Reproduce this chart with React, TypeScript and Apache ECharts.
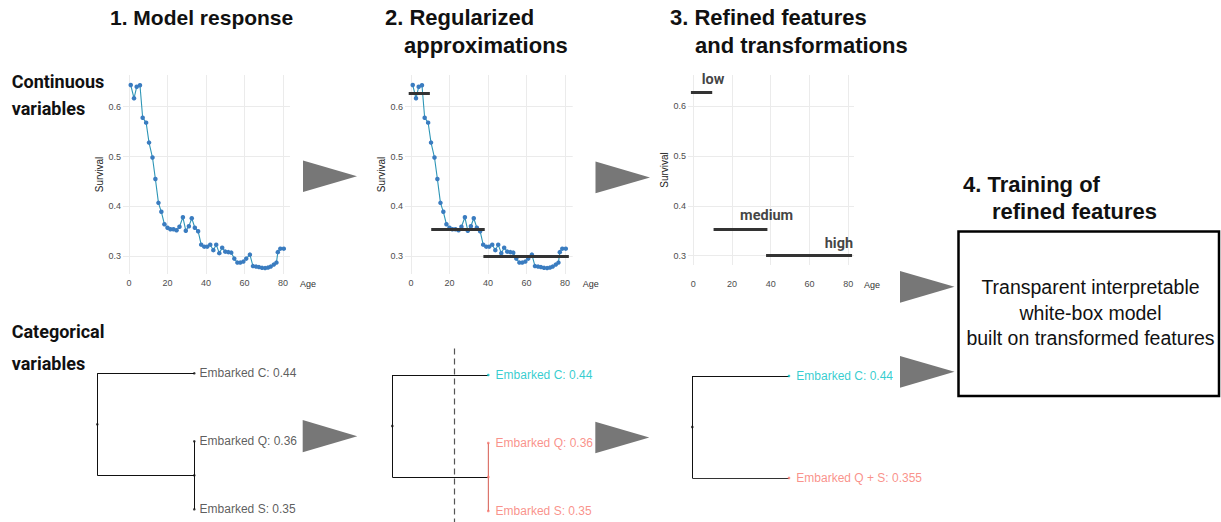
import React, { useEffect, useRef } from "react";
import * as echarts from "echarts";

// ---------- data ----------
const ages = [0.9, 2.6, 4.0, 5.7, 7.1, 8.9, 10.4, 12.2, 13.7, 15.3, 16.8, 18.4, 20.0, 21.5, 23.1, 24.7, 26.2, 28.0, 29.5, 31.1, 32.6, 34.2, 35.9, 37.5, 39.1, 40.6, 42.2, 43.8, 45.3, 46.9, 48.4, 50.0, 51.6, 53.1, 54.7, 56.3, 57.8, 59.4, 60.9, 62.8, 64.4, 66.0, 67.5, 69.1, 70.7, 72.2, 73.6, 75.2, 76.6, 77.3, 78.6, 80.4];
const survival = [0.6435, 0.617, 0.640, 0.643, 0.578, 0.568, 0.528, 0.498, 0.455, 0.407, 0.389, 0.364, 0.357, 0.354, 0.354, 0.352, 0.359, 0.378, 0.351, 0.360, 0.376, 0.357, 0.350, 0.323, 0.319, 0.319, 0.323, 0.312, 0.323, 0.306, 0.317, 0.309, 0.308, 0.307, 0.295, 0.287, 0.287, 0.289, 0.295, 0.303, 0.280, 0.279, 0.278, 0.2765, 0.276, 0.277, 0.279, 0.283, 0.287, 0.308, 0.315, 0.315];

const bandNames = ["low", "medium", "high"];
const bandStart = [-1.2, 10.5, 37.6];
const bandEnd = [9.8, 38.3, 82.0];
const bandSurvival = [0.628, 0.353, 0.3];
const bandLabelX = [10.2, 37.9, 75.2];
const bandLabelY = [0.654, 0.38, 0.3234];

const xTicks = [0, 20, 40, 60, 80];
const yTicks = [0.3, 0.4, 0.5, 0.6];

const embarkedPorts = ["C", "Q", "S"];
const embarkedSurvival = [0.44, 0.36, 0.35];
const leafOrder = [3, 2, 1];
const mergeHeights = [1, 0]; // root, Q+S
const clusterOf = [0, 1, 1];
const cutHeight = 0.35;
const mergedPorts = "Q + S";
const mergedSurvival = 0.355;

// ---------- styles ----------
const SANS = "'Liberation Sans', Arial, Helvetica, sans-serif";
const BOLDSANS = "Roboto, 'Liberation Sans', Arial, sans-serif";
const POINT = "#3A7CC0";
const LINE = "#2E96B6";
const CYAN = "#00BFC4";
const SALMON = "#F8766D";
const SALMON_DARK = "#DC756C";
const clusterColors = [CYAN, SALMON];

const contGrids = [
  { left: 123, top: 75, width: 167, height: 199 },
  { left: 405, top: 75, width: 167.7, height: 199 },
  { left: 688, top: 75, width: 166, height: 190 },
];
const contX = [[-3.12, 83.63], [-3.12, 84.0], [-2.7, 83.0]];
const contY = [[0.2641, 0.6637], [0.2641, 0.6637], [0.2813, 0.6621]];
const yNameGap = [17.5, 18.5, 19];
const xLabelMargin = [4.5, 4.5, 14.5];

const dendroGrids = [
  { left: 97.3, top: 342.7, width: 97, height: 180.2 },
  { left: 392.3, top: 344.4, width: 96, height: 180.2 },
  { left: 692.3, top: 345.4, width: 96.7, height: 180.2 },
];

function buildOption() {
  const grid: any[] = [];
  const xAxis: any[] = [];
  const yAxis: any[] = [];
  const series: any[] = [];

  contGrids.forEach((g, i) => {
    grid.push({ ...g, containLabel: false, outerBoundsMode: "none" });
    xAxis.push({
      type: "value",
      gridIndex: i,
      min: contX[i][0],
      max: contX[i][1],
      name: "Age",
      nameLocation: "end",
      nameGap: 10,
      nameTextStyle: { fontFamily: SANS, fontSize: 9, color: "#333", verticalAlign: "top", padding: [xLabelMargin[i] + 0.5, 0, 0, 0] },
      axisLine: { show: false },
      axisTick: { show: false, customValues: xTicks },
      axisLabel: { customValues: xTicks, fontFamily: SANS, fontSize: 9, color: "#4d4d4d", margin: xLabelMargin[i] },
      splitLine: { show: true, lineStyle: { color: "#EBEBEB", width: 1 } },
    });
    yAxis.push({
      type: "value",
      gridIndex: i,
      min: contY[i][0],
      max: contY[i][1],
      name: "Survival",
      nameLocation: "middle",
      nameGap: yNameGap[i],
      nameRotate: 90,
      nameTextStyle: { fontFamily: SANS, fontSize: 10, color: "#222" },
      axisLine: { show: false },
      axisTick: { show: false, customValues: yTicks },
      axisLabel: { customValues: yTicks, fontFamily: SANS, fontSize: 9, color: "#4d4d4d", margin: 2, formatter: (v: number) => v.toFixed(1) },
      splitLine: { show: true, lineStyle: { color: "#EBEBEB", width: 1 } },
    });
  });

  const responseData = ages.map((a, k) => [a, survival[k]]);
  [0, 1].forEach((i) => {
    series.push({
      type: "line",
      xAxisIndex: i,
      yAxisIndex: i,
      data: responseData,
      symbol: "circle",
      symbolSize: 4.5,
      itemStyle: { color: POINT },
      lineStyle: { color: LINE, width: 1.1 },
      z: 2,
    });
  });

  const bandLines = bandNames.map((_, k) => ({
    coords: [[bandStart[k], bandSurvival[k]], [bandEnd[k], bandSurvival[k]]],
  }));
  [1, 2].forEach((i) => {
    series.push({
      type: "lines",
      coordinateSystem: "cartesian2d",
      xAxisIndex: i,
      yAxisIndex: i,
      data: bandLines,
      lineStyle: { color: "#333", width: 3.2, opacity: 1 },
      z: 5,
    });
  });
  series.push({
    type: "scatter",
    xAxisIndex: 2,
    yAxisIndex: 2,
    symbolSize: 0,
    data: bandNames.map((n, k) => ({ name: n, value: [bandLabelX[k], bandLabelY[k]] })),
    label: {
      show: true,
      position: "inside",
      formatter: "{b}",
      fontFamily: BOLDSANS,
      fontWeight: "bold",
      fontSize: 14.5,
      color: "#111",
    },
    z: 6,
  });

  // dendrograms
  dendroGrids.forEach((g, j) => {
    const gi = 3 + j;
    grid.push({ ...g, containLabel: false, outerBoundsMode: "none" });
    xAxis.push({ type: "value", gridIndex: gi, inverse: true, min: 0, max: 1, show: false });
    yAxis.push({ type: "value", gridIndex: gi, min: 0.8, max: 3.45, show: false });
  });

  const rootH = mergeHeights[0];
  const qsH = mergeHeights[1];
  const qsY = (leafOrder[1] + leafOrder[2]) / 2;
  const rootY = (leafOrder[0] + qsY) / 2;
  const leafLabel = (k: number) => `Embarked ${embarkedPorts[k]}: ${embarkedSurvival[k]}`;

  [0, 1].forEach((j) => {
    const gi = 3 + j;
    const qsColor = j === 0 ? "#111" : SALMON_DARK;
    series.push({
      type: "lines",
      coordinateSystem: "cartesian2d",
      xAxisIndex: gi,
      yAxisIndex: gi,
      lineStyle: { color: "#111", width: 1, opacity: 1 },
      data: [
        { coords: [[rootH, leafOrder[0]], [rootH, qsY]] },
        { coords: [[rootH, leafOrder[0]], [0, leafOrder[0]]] },
        { coords: [[rootH, qsY], [qsH, qsY]] },
        { coords: [[qsH, leafOrder[1]], [qsH, leafOrder[2]]], lineStyle: { color: qsColor, width: j === 0 ? 1 : 1.4 } },
      ],
    });
    const dots: any[] = [
      { value: [rootH, rootY], itemStyle: { color: "#111" } },
      { value: [qsH, qsY], itemStyle: { color: j === 0 ? "#111" : SALMON } },
    ];
    embarkedPorts.forEach((_, k) => {
      const c = j === 0 ? "#333" : clusterColors[clusterOf[k]];
      dots.push({
        name: leafLabel(k),
        value: [0, leafOrder[k]],
        itemStyle: { color: j === 0 ? "#111" : c },
        label: { show: true, color: c },
      });
    });
    series.push({
      type: "scatter",
      xAxisIndex: gi,
      yAxisIndex: gi,
      symbolSize: 2.6,
      data: dots,
      label: { show: false, position: "right", distance: j === 0 ? 4 : 6, formatter: "{b}", fontFamily: SANS, fontSize: 12 },
      markLine:
        j === 1
          ? {
              silent: true,
              symbol: "none",
              label: { show: false },
              lineStyle: { type: [6, 4], color: "#555", width: 1.2 },
              data: [{ xAxis: cutHeight }],
            }
          : undefined,
      z: 4,
    });
  });

  // dendrogram 3 : refined
  const gi3 = 5;
  series.push({
    type: "lines",
    coordinateSystem: "cartesian2d",
    xAxisIndex: gi3,
    yAxisIndex: gi3,
    lineStyle: { color: "#111", width: 1, opacity: 1 },
    data: [
      { coords: [[rootH, leafOrder[0]], [rootH, qsY]] },
      { coords: [[rootH, leafOrder[0]], [0, leafOrder[0]]] },
      { coords: [[rootH, qsY], [0, qsY]], lineStyle: { color: "#333" } },
    ],
  });
  series.push({
    type: "scatter",
    xAxisIndex: gi3,
    yAxisIndex: gi3,
    symbolSize: 2.6,
    data: [
      { value: [rootH, rootY], itemStyle: { color: "#111" } },
      { name: leafLabel(0), value: [0, leafOrder[0]], itemStyle: { color: CYAN }, label: { show: true, color: CYAN } },
      { name: `Embarked ${mergedPorts}: ${mergedSurvival}`, value: [0, qsY], itemStyle: { color: SALMON }, label: { show: true, color: SALMON } },
    ],
    label: { show: false, position: "right", distance: 6, formatter: "{b}", fontFamily: SANS, fontSize: 12 },
    z: 4,
  });

  // ---------- graphic annotations ----------
  const title = (text: string, x: number, y: number, size = 22) => ({
    type: "text",
    x,
    y,
    style: { text, fontFamily: SANS, fontWeight: "bold", fontSize: size, fill: "#111", align: "left", verticalAlign: "middle" },
  });
  const sideLabel = (text: string, x: number, y: number) => ({
    type: "text",
    x,
    y,
    style: { text, fontFamily: BOLDSANS, fontWeight: "bold", fontSize: 18, fill: "#111", align: "left", verticalAlign: "middle" },
  });
  const arrow = (x: number, y0: number, y1: number, tip: number) => ({
    type: "polygon",
    shape: { points: [[x, y0], [x, y1], [tip, (y0 + y1) / 2]] },
    style: { fill: "#777777" },
  });

  const graphic: any[] = [
    title("1. Model response", 110, 17.7, 21),
    title("2. Regularized", 385, 17.7),
    title("approximations", 404, 45.2),
    title("3. Refined features", 670, 17.7),
    title("and transformations", 695, 45.2),
    title("4. Training of", 963, 184),
    title("refined features", 992, 211.5),
    sideLabel("Continuous", 11.7, 81.2),
    sideLabel("variables", 11.7, 108.5),
    sideLabel("Categorical", 11.7, 331),
    sideLabel("variables", 11.7, 363.5),
    arrow(303, 160.5, 192, 357),
    arrow(595.5, 161.5, 193.3, 650),
    arrow(900, 271, 302.7, 954.5),
    arrow(900, 356, 387.7, 954.5),
    arrow(302.7, 420, 452.3, 357.3),
    arrow(595.3, 421.7, 453.3, 649.3),
    {
      type: "rect",
      shape: { x: 958.5, y: 231.5, width: 260.5, height: 164.5 },
      style: { fill: "none", stroke: "#000", lineWidth: 2.5 },
    },
    {
      type: "text",
      x: 1090.5,
      y: 312.7,
      style: {
        text: "Transparent interpretable\nwhite-box model\nbuilt on transformed features",
        fontFamily: SANS,
        fontSize: 19.5,
        lineHeight: 25.6,
        fill: "#111",
        align: "center",
        verticalAlign: "middle",
      },
    },
  ];

  return {
    animation: false,
    backgroundColor: "#ffffff",
    textStyle: { fontFamily: SANS },
    grid,
    xAxis,
    yAxis,
    series,
    graphic,
  };
}

export default function App() {
  const ref = useRef<HTMLDivElement>(null);
  useEffect(() => {
    if (!ref.current) return;
    const chart = echarts.init(ref.current, null, { renderer: "svg" });
    chart.setOption(buildOption() as any);
    return () => chart.dispose();
  }, []);
  return (
    <div
      ref={ref}
      style={{ position: "absolute", left: 0, top: 0, width: 1221, height: 522, background: "#fff" }}
    />
  );
}
